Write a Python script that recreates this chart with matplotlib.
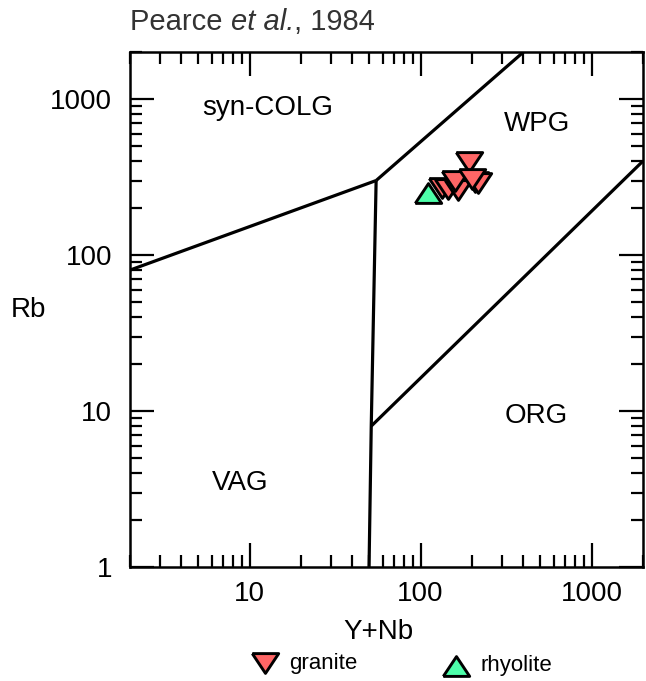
import numpy as np
import matplotlib.pyplot as plt
from matplotlib.lines import Line2D
from matplotlib.markers import MarkerStyle

plt.rcParams['font.family'] = ['Liberation Sans', 'DejaVu Sans']

# Pearce et al. (1984) field boundaries, (Y+Nb, Rb)
colg_vag = [(2, 80), (55, 300)]
colg_wpg = [(55, 300), (400, 2000)]
vag_wpg = [(55, 300), (51.5, 8), (50, 1)]
wpg_org = [(51.5, 8), (2000, 400)]

# samples
granite_ynb = [192, 208, 134, 145, 166, 160, 218, 200]
granite_rb = [395, 294, 269, 265, 261, 300, 288, 305]
rhyolite_ynb = [111]
rhyolite_rb = [250]

fields = ["syn-COLG", "WPG", "ORG", "VAG"]
field_x = [12.8, 480, 475, 8.8]
field_y = [875, 692, 9.3, 3.45]

red = '#ff6666'
green = '#4dffaa'
down_tri = MarkerStyle([(-1, 0.75), (1, 0.75), (0, -0.75), (-1, 0.75)], joinstyle='miter')
up_tri = MarkerStyle([(-1, -0.75), (1, -0.75), (0, 0.75), (-1, -0.75)], joinstyle='miter')
mk = dict(ms=19, mew=2.1, ls='none', markeredgecolor='black')

fig = plt.figure(figsize=(6.46, 6.81), dpi=100)
ax = fig.add_axes([130/646, 1-567/681, 513/646, 515/681])
ax.set_xscale('log')
ax.set_yscale('log')
ax.set_xlim(2, 2000)
ax.set_ylim(1, 2000)

for seg in [colg_vag, colg_wpg, vag_wpg, wpg_org]:
    xs, ys = zip(*seg)
    ax.plot(xs, ys, color='black', lw=2.3, solid_capstyle='butt', zorder=2)

for i in range(len(granite_ynb)):
    ax.plot(granite_ynb[i], granite_rb[i], marker=down_tri, mfc=red, zorder=3, **mk)
ax.plot(rhyolite_ynb, rhyolite_rb, marker=up_tri, mfc=green, zorder=2.5, **mk)

for name, fx, fy in zip(fields, field_x, field_y):
    ax.text(fx, fy, name, fontsize=20, ha='center', va='center')

ax.set_xticks([10, 100, 1000])
ax.set_xticklabels(['10', '100', '1000'])
ax.set_yticks([1, 10, 100, 1000])
ax.set_yticklabels(['1', '10', '100', '1000'])
ax.tick_params(which='both', direction='in', top=True, right=True, labelsize=20, width=1.6)
ax.tick_params(which='major', length=17)
ax.tick_params(axis='y', which='major', pad=13)
ax.tick_params(axis='x', which='major', pad=10)
ax.tick_params(which='minor', length=8.5)
for s in ax.spines.values():
    s.set_linewidth(1.8)

fig.text(28/646, 1-310/681, 'Rb', fontsize=20, ha='center', va='center')
fig.text(378/646, 1-632/681, 'Y+Nb', fontsize=20, ha='center', va='center')

# title with italic "et al."
r = fig.canvas.get_renderer()
x0 = 130/646
ty = 1-22/681
for part, style in [('Pearce ', 'normal'), ('et al.', 'italic'), (', 1984', 'normal')]:
    t = fig.text(x0, ty, part, fontsize=21, style=style, ha='left', va='center', color='#333333')
    bb = t.get_window_extent(r)
    x0 += bb.width/646

# legend
for px, py, m, c, lab in [(265, 663, down_tri, red, 'granite'), (456, 666, up_tri, green, 'rhyolite')]:
    ly = 1-py/681
    fig.add_artist(Line2D([px/646], [ly], transform=fig.transFigure, marker=m, mfc=c, **mk))
    fig.text((px+24)/646, ly, lab, fontsize=16, ha='left', va='center')

fig.savefig('out.png', dpi=100)
